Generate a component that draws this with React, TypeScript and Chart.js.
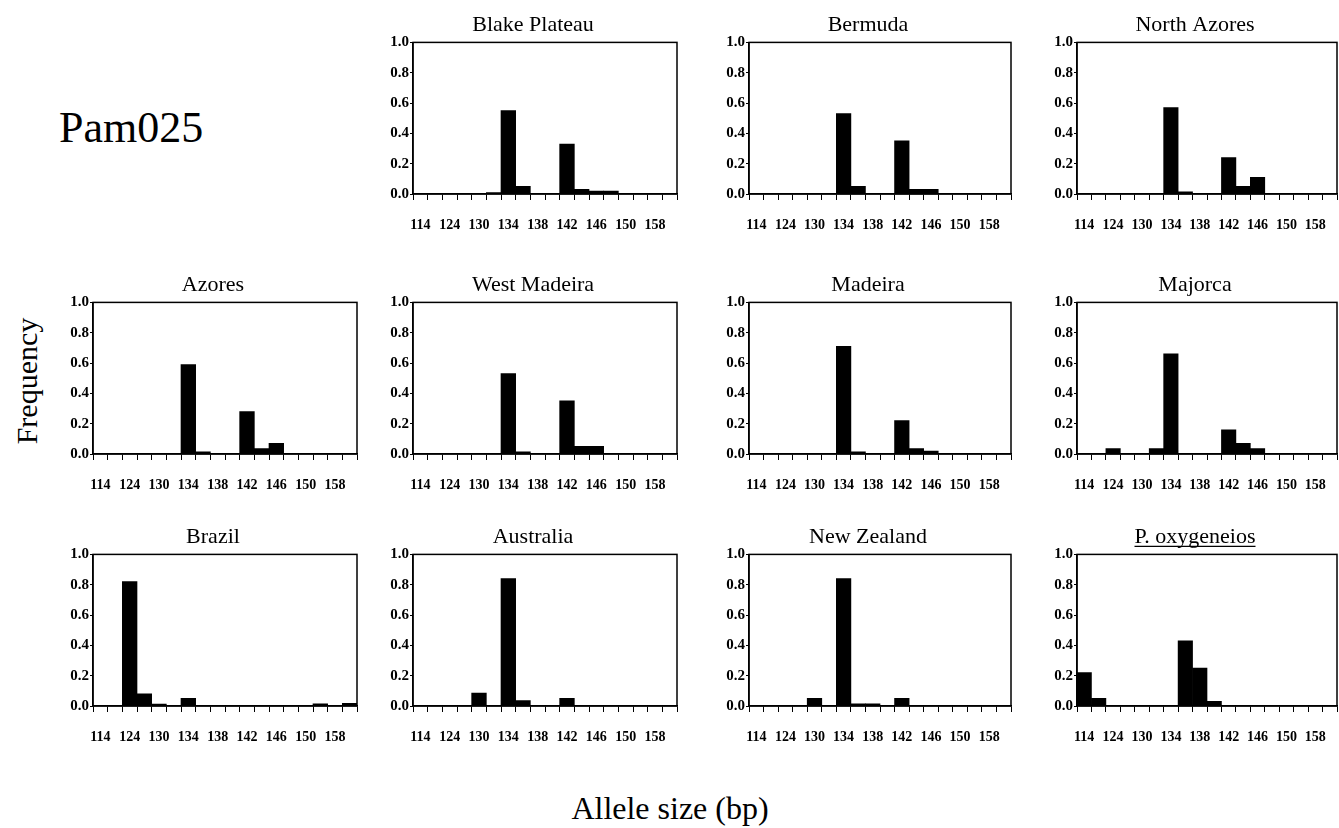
import React, { useEffect, useRef } from 'react';
import { Chart, registerables } from 'chart.js';

Chart.register(...registerables);

// ---------- data ----------
const alleleSizes = ['114', '120', '124', '128', '130', '132', '134', '136', '138', '140', '142', '144', '146', '148', '150', '154', '158', '160'];
const yTickValues = [0, 0.2, 0.4, 0.6, 0.8, 1.0];

const blakePlateau = [0, 0, 0, 0, 0, 0.01, 0.55, 0.05, 0, 0, 0.33, 0.03, 0.02, 0.02, 0, 0, 0, 0];
const bermuda = [0, 0, 0, 0, 0, 0, 0.53, 0.05, 0, 0, 0.35, 0.03, 0.03, 0, 0, 0, 0, 0];
const northAzores = [0, 0, 0, 0, 0, 0, 0.57, 0.015, 0, 0, 0.24, 0.05, 0.11, 0, 0, 0, 0, 0];
const azores = [0, 0, 0, 0, 0, 0, 0.59, 0.015, 0, 0, 0.28, 0.035, 0.07, 0, 0, 0, 0, 0];
const westMadeira = [0, 0, 0, 0, 0, 0, 0.53, 0.015, 0, 0, 0.35, 0.05, 0.05, 0, 0, 0, 0, 0];
const madeira = [0, 0, 0, 0, 0, 0, 0.71, 0.015, 0, 0, 0.22, 0.035, 0.02, 0, 0, 0, 0, 0];
const majorca = [0, 0, 0.035, 0, 0, 0.035, 0.66, 0, 0, 0, 0.16, 0.07, 0.035, 0, 0, 0, 0, 0];
const brazil = [0, 0, 0.82, 0.08, 0.013, 0, 0.05, 0, 0, 0, 0, 0, 0, 0, 0, 0.015, 0, 0.017];
const australia = [0, 0, 0, 0, 0.085, 0, 0.84, 0.035, 0, 0, 0.05, 0, 0, 0, 0, 0, 0, 0];
const newZealand = [0, 0, 0, 0, 0.05, 0, 0.84, 0.015, 0.015, 0, 0.05, 0, 0, 0, 0, 0, 0, 0];
const pOxygeneios = [0.22, 0.05, 0, 0, 0, 0, 0, 0.43, 0.25, 0.03, 0, 0, 0, 0, 0, 0, 0, 0];

const locusName = 'Pam025';
const yAxisTitle = 'Frequency';
const xAxisTitle = 'Allele size (bp)';

const panels = [
  { title: 'Blake Plateau', values: blakePlateau, row: 0, col: 1 },
  { title: 'Bermuda', values: bermuda, row: 0, col: 2 },
  { title: 'North Azores', values: northAzores, row: 0, col: 3 },
  { title: 'Azores', values: azores, row: 1, col: 0 },
  { title: 'West Madeira', values: westMadeira, row: 1, col: 1 },
  { title: 'Madeira', values: madeira, row: 1, col: 2 },
  { title: 'Majorca', values: majorca, row: 1, col: 3 },
  { title: 'Brazil', values: brazil, row: 2, col: 0 },
  { title: 'Australia', values: australia, row: 2, col: 1 },
  { title: 'New Zealand', values: newZealand, row: 2, col: 2 },
  { title: 'P. oxygeneios', values: pOxygeneios, row: 2, col: 3, underline: true },
];

// ---------- layout ----------
const SERIF = '"Liberation Serif", "Times New Roman", serif';
const COL_PLOT_LEFT = [93, 413, 749, 1077];
const COL_PLOT_WIDTH = [264, 264, 262, 260];
const ROW_PLOT_TOP = [42, 302, 554];
const PLOT_H = 152;
const Y_AXIS_W = 34;
const RIGHT_SPACE = 10;
const TOP_PAD = 4;
const TITLE_SIZE = 22;
const TITLE_GAP = 4;
const X_AXIS_H = 44;
const TITLE_BLOCK = TOP_PAD + TITLE_SIZE * 1.2 + TITLE_GAP;

const framePlugin = {
  id: 'frameBox',
  afterDatasetsDraw(chart: any) {
    const { ctx, chartArea } = chart;
    ctx.save();
    ctx.strokeStyle = '#000';
    ctx.lineWidth = 1.5;
    ctx.strokeRect(chartArea.left, chartArea.top, chartArea.right - chartArea.left, chartArea.bottom - chartArea.top);
    ctx.restore();
  },
};

const underlinePlugin = {
  id: 'underlineTitle',
  afterDraw(chart: any) {
    const tb = chart.titleBlock;
    if (!tb) return;
    const ctx = chart.ctx;
    const text = chart.options.plugins.title.text;
    ctx.save();
    ctx.font = `${TITLE_SIZE}px ${SERIF}`;
    const w = ctx.measureText(text).width;
    const cx = (tb.left + tb.right) / 2;
    const cy = tb.top + (TITLE_SIZE * 1.2) / 2 + TITLE_SIZE * 0.42;
    ctx.strokeStyle = '#000';
    ctx.lineWidth = 1.2;
    ctx.beginPath();
    ctx.moveTo(cx - w / 2, cy);
    ctx.lineTo(cx + w / 2, cy);
    ctx.stroke();
    ctx.restore();
  },
};

function Panel({ p }: { p: any }) {
  const ref = useRef<HTMLCanvasElement | null>(null);
  const plotW = COL_PLOT_WIDTH[p.col];
  const width = Math.round(Y_AXIS_W + plotW + RIGHT_SPACE);
  const height = Math.round(TITLE_BLOCK + PLOT_H + X_AXIS_H);
  const left = COL_PLOT_LEFT[p.col] - Y_AXIS_W;
  const top = Math.round(ROW_PLOT_TOP[p.row] - TITLE_BLOCK);

  useEffect(() => {
    if (!ref.current) return;
    const chart = new Chart(ref.current, {
      type: 'bar',
      data: {
        labels: alleleSizes,
        datasets: [
          {
            data: p.values,
            backgroundColor: '#000',
            borderWidth: 0,
            barPercentage: 1,
            categoryPercentage: 1,
          },
        ],
      },
      options: {
        responsive: false,
        animation: false,
        devicePixelRatio: 1,
        layout: { padding: { top: TOP_PAD, right: 0, left: 0, bottom: 0 } },
        plugins: {
          legend: { display: false },
          tooltip: { enabled: false },
          title: {
            display: true,
            text: p.title,
            color: '#000',
            font: { family: SERIF, size: TITLE_SIZE, weight: 'normal' },
            padding: { top: 0, bottom: TITLE_GAP },
          },
        },
        scales: {
          x: {
            type: 'category',
            grid: { display: true, drawOnChartArea: false, drawTicks: true, tickLength: 6, color: '#000', lineWidth: 1, offset: true },
            border: { display: true, color: '#000', width: 1.5 },
            ticks: {
              autoSkip: false,
              maxRotation: 0,
              minRotation: 0,
              padding: 17,
              color: '#000',
              font: { family: SERIF, size: 14, weight: 'bold' },
              callback: (_v: any, i: number) => (i % 2 === 0 ? alleleSizes[i] : ''),
            },
            afterFit: (s: any) => {
              s.height = X_AXIS_H;
              s.paddingLeft = 0;
              s.paddingRight = RIGHT_SPACE;
            },
          },
          y: {
            min: 0,
            max: 1,
            afterBuildTicks: (s: any) => {
              s.ticks = yTickValues.map((v) => ({ value: v }));
            },
            grid: { display: true, drawOnChartArea: false, drawTicks: true, tickLength: 3, color: '#000', lineWidth: 1 },
            border: { display: true, color: '#000', width: 1.5 },
            ticks: {
              padding: 1,
              color: '#000',
              font: { family: SERIF, size: 15, weight: 'bold' },
              callback: (v: any) => Number(v).toFixed(1),
            },
            afterFit: (s: any) => {
              s.width = Y_AXIS_W;
            },
          },
        },
      },
      plugins: p.underline ? [framePlugin, underlinePlugin] : [framePlugin],
    } as any);
    return () => chart.destroy();
  }, []);

  return (
    <canvas
      ref={ref}
      width={width}
      height={height}
      style={{ position: 'absolute', left, top, width, height }}
    />
  );
}

export default function App() {
  return (
    <div
      style={{
        position: 'absolute',
        left: 0,
        top: 0,
        width: 1339,
        height: 828,
        overflow: 'hidden',
        background: '#fff',
        fontFamily: SERIF,
        color: '#000',
      }}
    >
      <div style={{ position: 'absolute', left: 59, top: 103, fontSize: 44, lineHeight: '50px', whiteSpace: 'nowrap' }}>
        {locusName}
      </div>
      <div
        style={{
          position: 'absolute',
          left: 27,
          top: 381,
          fontSize: 30,
          lineHeight: '34px',
          whiteSpace: 'nowrap',
          transform: 'translate(-50%, -50%) rotate(-90deg)',
        }}
      >
        {yAxisTitle}
      </div>
      <div
        style={{
          position: 'absolute',
          left: 670,
          top: 808,
          fontSize: 32,
          lineHeight: '36px',
          whiteSpace: 'nowrap',
          transform: 'translate(-50%, -50%)',
        }}
      >
        {xAxisTitle}
      </div>
      {panels.map((p) => (
        <Panel key={p.title} p={p} />
      ))}
    </div>
  );
}
